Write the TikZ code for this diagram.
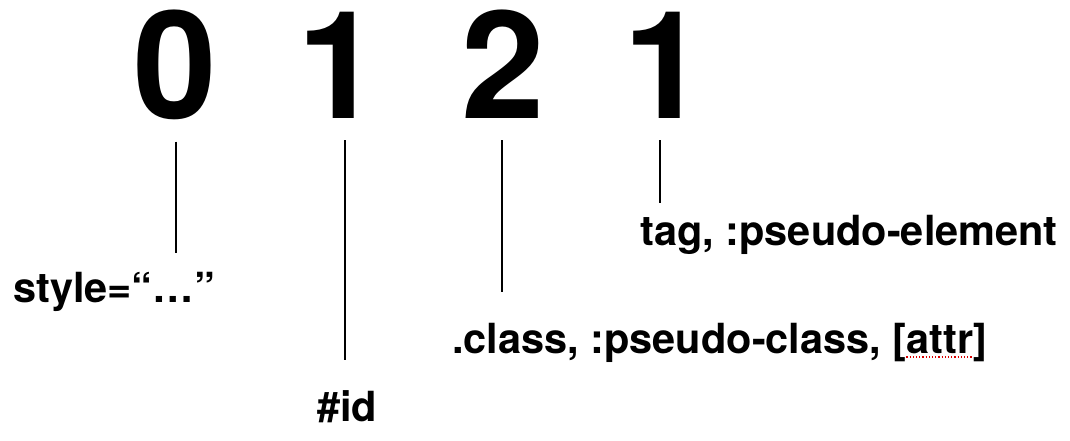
\documentclass[tikz,border=0pt]{standalone}
\usepackage{fontspec}
\setmainfont{TeX Gyre Heros}
\usetikzlibrary{positioning}

\begin{document}
\begin{tikzpicture}[x=1pt, y=-1pt,
  digit/.style={inner sep=0pt, anchor=base, font=\fontsize{150}{150}\selectfont\bfseries},
  lbl/.style={inner sep=0pt, anchor=base west, font=\fontsize{41.5}{48}\selectfont\bfseries},
  tick/.style={line width=2.6pt},
  spell/.style={red!85!black, line width=1.2pt, dotted}
]
\useasboundingbox (0,0) rectangle (1070,440);
% specificity digits
\node[digit] (inl) at (175,118) {0};
\node[digit] (ids) at (339,118) {1};
\node[digit] (cls) at (503,118) {2};
\node[digit] (tag) at (665,118) {1};

% labels
\node[lbl] (linl) at (13,302) {style=“…”};
\node[lbl] (lids) at (317,421) {\#id};
\node[lbl] (lcls) at (452,353) {.class, :pseudo-class, [attr]};
\node[lbl] (ltag) at (640,245) {tag, :pseudo-element};

% tick ends
\coordinate (e0) at (176,253);
\coordinate (e1) at (345,360);
\coordinate (e2) at (502,292);
\coordinate (e3) at (660,203);

\draw[tick] (inl.south -| e0) ++(0,22) -- (e0);
\draw[tick] (ids.south -| e1) ++(0,22) -- (e1);
\draw[tick] (cls.south -| e2) ++(0,22) -- (e2);
\draw[tick] (tag.south -| e3) ++(0,22) -- (e3);

\draw[spell] ([xshift=-81pt, yshift=-4pt]lcls.base east) -- ([xshift=-14pt, yshift=-4pt]lcls.base east);
\end{tikzpicture}
\end{document}
